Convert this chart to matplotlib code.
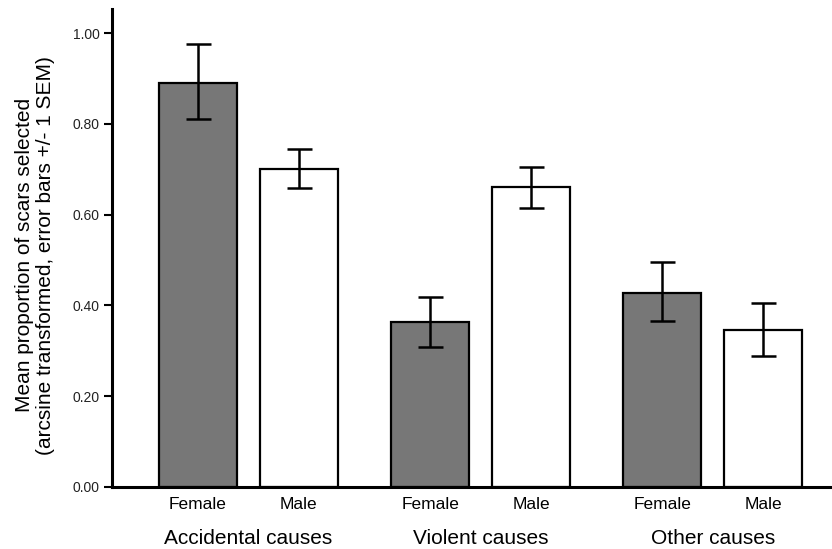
import numpy as np
import matplotlib.pyplot as plt
from matplotlib import transforms

# =================== DATA ===================

groups = ["Accidental causes", "Violent causes", "Other causes"]
sexes = ["Female", "Male"]
means = [0.89, 0.70, 0.363, 0.661, 0.427, 0.346]
err_hi = [0.976, 0.744, 0.419, 0.705, 0.496, 0.405]
err_lo = [0.811, 0.659, 0.309, 0.614, 0.366, 0.288]

# =================== PLOT ===================

plt.rcParams["font.family"] = ["Liberation Sans", "DejaVu Sans"]

fig = plt.figure(figsize=(8.32, 5.49), dpi=100)
ax = fig.add_axes([112 / 832, 62 / 549, 720 / 832, 478 / 549])

pos = []
for g in range(len(groups)):
    for s in range(len(sexes)):
        pos.append(g * 2.3 + s)
pos = np.array(pos)
means = np.array(means)
yerr = np.array([means - np.array(err_lo), np.array(err_hi) - means])

colors = ["#777777" if i % 2 == 0 else "white" for i in range(len(pos))]
ax.bar(pos, means, width=0.77, color=colors, edgecolor="black", linewidth=1.6, zorder=2)
ax.errorbar(pos, means, yerr=yerr, fmt="none", ecolor="black",
            elinewidth=1.8, capsize=9, capthick=1.8, zorder=3)

ax.set_xlim(-0.85, 6.28)
ax.set_ylim(0, 1.053)
ax.set_yticks([0.0, 0.2, 0.4, 0.6, 0.8, 1.0])
ax.set_yticklabels(["%.2f" % v for v in [0.0, 0.2, 0.4, 0.6, 0.8, 1.0]], fontsize=10, color="#222222")
ax.set_xticks(pos)
ax.set_xticklabels(sexes * len(groups), fontsize=12.5)
ax.tick_params(axis="x", length=0, pad=7)
ax.tick_params(axis="y", length=6, width=1.5, direction="out", pad=3)

for side in ["top", "right"]:
    ax.spines[side].set_visible(False)
for side in ["left", "bottom"]:
    ax.spines[side].set_linewidth(2.2)

trans = transforms.blended_transform_factory(ax.transData, ax.transAxes)
for g, name in enumerate(groups):
    ax.text(g * 2.3 + 0.5, -0.108, name, transform=trans, ha="center", va="center", fontsize=15)

ax.set_ylabel("Mean proportion of scars selected\n(arcsine transformed, error bars +/- 1 SEM)",
              fontsize=15, linespacing=1.15)
ax.yaxis.set_label_coords(-0.079, 0.485)

fig.savefig("out.png", dpi=100)
